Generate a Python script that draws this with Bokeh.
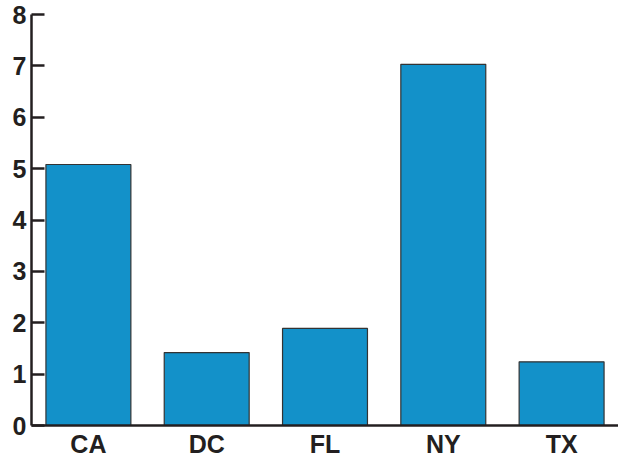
from bokeh.plotting import figure
from bokeh.models import FactorRange, Range1d, FixedTicker, ColumnDataSource
from bokeh.embed import file_html
from bokeh.resources import INLINE

states = ["CA", "DC", "FL", "NY", "TX"]
values = [5.08, 1.42, 1.89, 7.03, 1.24]
y_ticks = [0, 1, 2, 3, 4, 5, 6, 7, 8]

source = ColumnDataSource(data=dict(state=states, value=values))

p = figure(
    x_range=FactorRange(factors=states, range_padding=-0.019, range_padding_units="absolute"),
    y_range=Range1d(0, 8),
    width=618, height=460,
    output_backend="svg", toolbar_location=None,
    min_border_left=31, min_border_right=0, min_border_top=14, min_border_bottom=32,
)
p.vbar(x="state", top="value", width=0.718, source=source,
       fill_color="#1391C9", line_color="#333333", line_width=1.2)

p.outline_line_color = None
p.xgrid.grid_line_color = None
p.ygrid.grid_line_color = None
p.background_fill_color = "white"

axis_color = "#231F20"
for ax in (p.xaxis, p.yaxis):
    ax.axis_line_color = axis_color
    ax.axis_line_width = 2.5
    ax.major_label_text_font = "Liberation Sans"
    ax.major_label_text_font_style = "bold"
    ax.major_label_text_color = axis_color
    ax.minor_tick_line_color = None

p.xaxis.major_tick_line_color = None
p.xaxis.major_tick_in = 0
p.xaxis.major_tick_out = 0
p.xaxis.major_label_text_font_size = "25px"
p.xaxis.major_label_standoff = 4

p.yaxis.ticker = FixedTicker(ticks=y_ticks)
p.yaxis.major_tick_in = 13
p.yaxis.major_tick_out = 0
p.yaxis.major_tick_line_color = axis_color
p.yaxis.major_tick_line_width = 2.3
p.yaxis.major_label_text_font_size = "25px"
p.yaxis.major_label_standoff = 5

open("out.html", "w").write(file_html(p, INLINE))
